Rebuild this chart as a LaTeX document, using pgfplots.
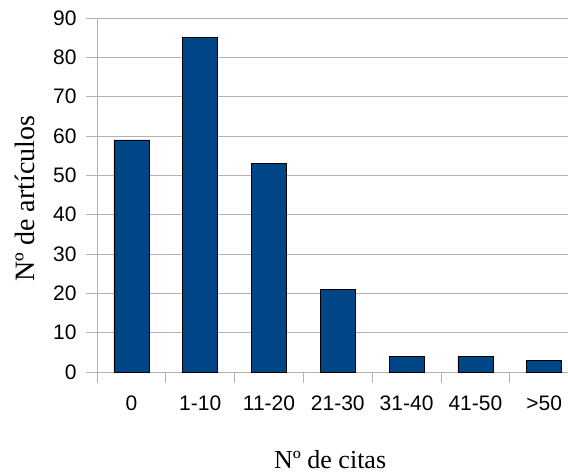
\documentclass[border=0pt]{standalone}
\usepackage{pgfplots}
\pgfplotsset{compat=1.18}
\usepackage{fontspec}
\setmainfont{Liberation Serif}
\newfontfamily\tickfont{Liberation Sans}
\definecolor{barblue}{RGB}{0,69,134}
\definecolor{gridgray}{RGB}{179,179,179}
\begin{document}
\begin{tikzpicture}
\useasboundingbox (0,0) rectangle (568pt,476pt);
\begin{axis}[
  at={(97pt,104pt)}, anchor=south west,
  scale only axis, width=471pt, height=354pt,
  xmin=-0.5, xmax=6.346, ymin=0, ymax=90,
  axis x line*=bottom, axis y line*=left,
  axis line style={gridgray, line width=0.8pt, -},
  ytick={0,10,...,90},
  xtick={0,...,6},
  xticklabels={0,1-10,11-20,21-30,31-40,41-50,>50},
  minor xtick={-0.5,0.5,...,5.5},
  tick align=outside,
  major tick length=11pt, minor tick length=11pt,
  tick style={gridgray, line width=0.8pt},
  major x tick style={draw=none},
  ymajorgrids, major grid style={gridgray, line width=0.8pt},
  /pgf/number format/assume math mode=true,
  ticklabel style={font=\tickfont\fontsize{21}{25}\selectfont},
  xticklabel style={yshift=-9pt},
  yticklabel style={xshift=-6pt},
  xlabel={Nº de citas}, ylabel={Nº de artículos},
  xlabel style={font=\fontsize{26}{30}\selectfont, at={(axis description cs:0.495,0)}, anchor=center, yshift=-88pt},
  ylabel style={font=\fontsize{28}{32}\selectfont, at={(axis description cs:0,0.49)}, anchor=center, yshift=72pt},
  clip=false,
]
\addplot[ybar, bar width=35pt, fill=barblue, draw=black, line width=0.6pt] coordinates {
 (0,59) (1,85) (2,53) (3,21) (4,4) (5,4) (6,3)};
\end{axis}
\end{tikzpicture}
\end{document}
